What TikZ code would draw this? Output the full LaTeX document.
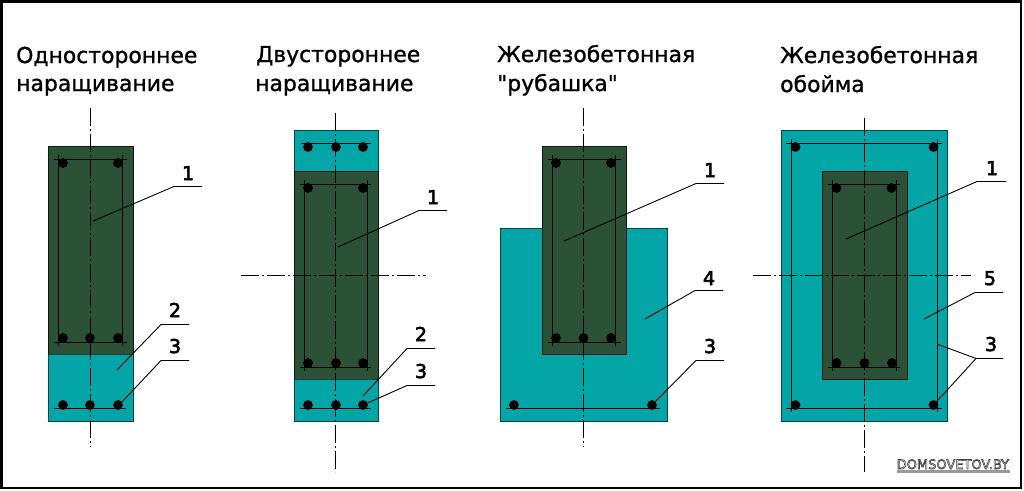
\documentclass[tikz,border=0pt]{standalone}
\usepackage{fontspec}
\setmainfont{DejaVu Sans}
\newfontfamily\plainface{DejaVu Sans}
\newcommand{\strk}[2]{\special{pdf:code 2 Tr #1 w 0 0 0 RG}#2\special{pdf:code 0 Tr}}
\definecolor{darkconc}{HTML}{2B5237}
\definecolor{tealconc}{HTML}{03A5A6}
\tikzset{
  x=1pt,y=-1pt,
  oldconc/.style={fill=darkconc,draw=black!70!darkconc,line width=.6pt},
  newconc/.style={fill=tealconc,draw=black!60!tealconc,line width=.9pt},
  steel/.style={draw=black,line width=.9pt},
  bardot/.style={circle,fill=black,inner sep=0pt,minimum size=9.8pt},
  axisline/.style={draw=black,line width=.9pt,dash pattern=on 18pt off 3pt on 2pt off 3pt},
  leader/.style={draw=black,line width=.9pt},
  titletext/.style={anchor=base west,inner sep=0pt,font=\plainface\fontsize{21.9}{26}\selectfont},
  numlabel/.style={anchor=base,inner sep=0pt,font=\plainface\fontsize{19}{22}\selectfont},
}
\begin{document}
\begin{tikzpicture}
\useasboundingbox (0,0) rectangle (1024,490);
\fill[white] (0,0) rectangle (1024,490);

% ---------- panel 1
\node[titletext] (t1a) at (16,63) {\strk{.25}{Одностороннее}};
\node[titletext] (t1b) at (16,91) {\strk{.25}{наращивание}};
\path[oldconc] (48,146) rectangle (133,354);
\path[newconc] (48,354) rectangle (133,421);
\path[steel] (54,159.5) -- (127,159.5) (54,342.5) -- (127,342.5) (58.5,155) -- (58.5,346) (122.5,155) -- (122.5,346) (54,408.5) -- (126,408.5);
\foreach \n/\px/\py in {a/63/163,b/118/163,c/63/338,d/90/338,e/118/338,f/63/405,g/90/405,h/118/405}
  \node[bardot] (p1\n) at (\px,\py) {};
\coordinate (ax1a) at (90.5,108); \coordinate (ax1b) at (90.5,447);
\path[axisline] (ax1a) -- (ax1b);
\coordinate (l1a) at (93,221); \coordinate (l1b) at (174,186.5); \coordinate (l1c) at (202,186.5);
\coordinate (l1d) at (117,370); \coordinate (l1e) at (161,324.5); \coordinate (l1f) at (189,324.5);
\coordinate (l1g) at (121,403); \coordinate (l1h) at (161,360.5); \coordinate (l1i) at (189,360.5);
\path[leader] (l1a) -- (l1b) -- (l1c);
\path[leader] (l1d) -- (l1e) -- (l1f);
\path[leader] (l1g) -- (l1h) -- (l1i);
\node[numlabel] (n1a) at (188,180) {\strk{.6}{1}};
\node[numlabel] (n1b) at (175,317) {\strk{.6}{2}};
\node[numlabel] (n1c) at (175,353) {\strk{.6}{3}};

% ---------- panel 2
\node[titletext] (t2a) at (256,62) {\strk{.25}{Двустороннее}};
\node[titletext] (t2b) at (255,91) {\strk{.25}{наращивание}};
\path[newconc] (294,130) rectangle (378,171);
\path[oldconc] (294,171) rectangle (378,379);
\path[newconc] (294,379) rectangle (378,421);
\path[steel] (301,143.5) -- (371,143.5) (300,184.5) -- (371,184.5) (300,367.5) -- (371,367.5) (304.5,180) -- (304.5,371) (367.5,180) -- (367.5,371) (300,408.5) -- (371,408.5);
\foreach \n/\px/\py in {a/308/147,b/336/147,c/363/147,d/308/188,e/363/188,f/308/363,g/336/363,h/363/363,i/308/405,j/336/405,k/363/405}
  \node[bardot] (p2\n) at (\px,\py) {};
\coordinate (ax2a) at (335.5,113); \coordinate (ax2b) at (335.5,472);
\coordinate (ax2c) at (241,275.5); \coordinate (ax2d) at (426,275.5);
\path[axisline] (ax2a) -- (ax2b);
\path[axisline] (ax2c) -- (ax2d);
\coordinate (l2a) at (338,247); \coordinate (l2b) at (419,210.5); \coordinate (l2c) at (447,210.5);
\coordinate (l2d) at (363,396); \coordinate (l2e) at (407,348.5); \coordinate (l2f) at (435,348.5);
\coordinate (l2h) at (407,385.5); \coordinate (l2i) at (435,385.5);
\path[leader] (l2a) -- (l2b) -- (l2c);
\path[leader] (l2d) -- (l2e) -- (l2f);
\path[leader] (p2k) -- (l2h) -- (l2i);
\node[numlabel] (n2a) at (433,204) {\strk{.6}{1}};
\node[numlabel] (n2b) at (421,341) {\strk{.6}{2}};
\node[numlabel] (n2c) at (421,378) {\strk{.6}{3}};

% ---------- panel 3
\node[titletext] (t3a) at (497,62) {\strk{.25}{Железобетонная}};
\node[titletext] (t3b) at (497,91) {\strk{.25}{"рубашка"}};
\path[newconc] (500,228) rectangle (667,421);
\path[oldconc] (542,146) rectangle (626,354);
\path[steel] (548,159.5) -- (621,159.5) (548,342.5) -- (621,342.5) (552.5,155) -- (552.5,346) (615.5,155) -- (615.5,346) (506,408.5) -- (660,408.5);
\foreach \n/\px/\py in {a/556/163,b/611/163,c/556/338,d/583.5/338,e/611/338,f/514/405,g/652/405}
  \node[bardot] (p3\n) at (\px,\py) {};
\coordinate (ax3a) at (583.5,108); \coordinate (ax3b) at (583.5,447);
\path[axisline] (ax3a) -- (ax3b);
\coordinate (l3a) at (564,241); \coordinate (l3b) at (696,183.5); \coordinate (l3c) at (724,183.5);
\coordinate (l3d) at (645,319); \coordinate (l3e) at (695,290.5); \coordinate (l3f) at (723,290.5);
\coordinate (l3h) at (696,360.5); \coordinate (l3i) at (724,360.5);
\path[leader] (l3a) -- (l3b) -- (l3c);
\path[leader] (l3d) -- (l3e) -- (l3f);
\path[leader] (p3g) -- (l3h) -- (l3i);
\node[numlabel] (n3a) at (710,177) {\strk{.6}{1}};
\node[numlabel] (n3b) at (709,285) {\strk{.6}{4}};
\node[numlabel] (n3c) at (710,353) {\strk{.6}{3}};

% ---------- panel 4
\node[titletext] (t4a) at (780,63) {\strk{.25}{Железобетонная}};
\node[titletext] (t4b) at (780,92) {\strk{.25}{обойма}};
\path[newconc] (781,130) rectangle (947.5,421);
\path[oldconc] (822,171) rectangle (907,379);
\path[steel] (786,143.5) -- (942,143.5) (786,408.5) -- (942,408.5) (791.5,139) -- (791.5,412) (937.5,139) -- (937.5,412);
\path[steel] (828,184.5) -- (900,184.5) (828,367.5) -- (900,367.5) (832.5,180) -- (832.5,371) (896.5,180) -- (896.5,371);
\foreach \n/\px/\py in {a/795.5/147,b/933.5/147,c/795.5/405,d/933.5/405,e/836.5/188,f/891.5/188,g/836.5/363,h/864.5/363,i/892/363}
  \node[bardot] (p4\n) at (\px,\py) {};
\coordinate (ax4a) at (864.5,118); \coordinate (ax4b) at (864.5,472);
\coordinate (ax4c) at (753,275.5); \coordinate (ax4d) at (971,275.5);
\path[axisline] (ax4a) -- (ax4b);
\path[axisline] (ax4c) -- (ax4d);
\coordinate (l4a) at (846,239); \coordinate (l4b) at (977,181.5); \coordinate (l4c) at (1006,181.5);
\coordinate (l4d) at (924,319); \coordinate (l4e) at (975,292.5); \coordinate (l4f) at (1003,292.5);
\coordinate (l4g) at (937,344); \coordinate (l4h) at (976,358.5); \coordinate (l4i) at (1003,358.5);
\path[leader] (l4a) -- (l4b) -- (l4c);
\path[leader] (l4d) -- (l4e) -- (l4f);
\path[leader] (l4g) -- (l4h) -- (l4i);
\path[leader] (p4d) -- (l4h);
\node[numlabel] (n4a) at (992,175) {\strk{.6}{1}};
\node[numlabel] (n4b) at (990,285) {\strk{.6}{5}};
\node[numlabel] (n4c) at (991,351) {\strk{.6}{3}};

% ---------- watermark
\fill[black!40] (897,469.5) rectangle (1010,472.5);
\node[anchor=base west,inner sep=0pt,text=white,font=\fontsize{13}{14}\selectfont] (wm) at (896.5,469)
  {\special{pdf:code 2 Tr 0.6 w 0.25 0.25 0.25 RG}DOMSOVETOV.BY\special{pdf:code 0 Tr}};

% ---------- frame
\draw[black,line width=2.6pt] (1.3,1.3) rectangle (1021,488);
\end{tikzpicture}
\end{document}
